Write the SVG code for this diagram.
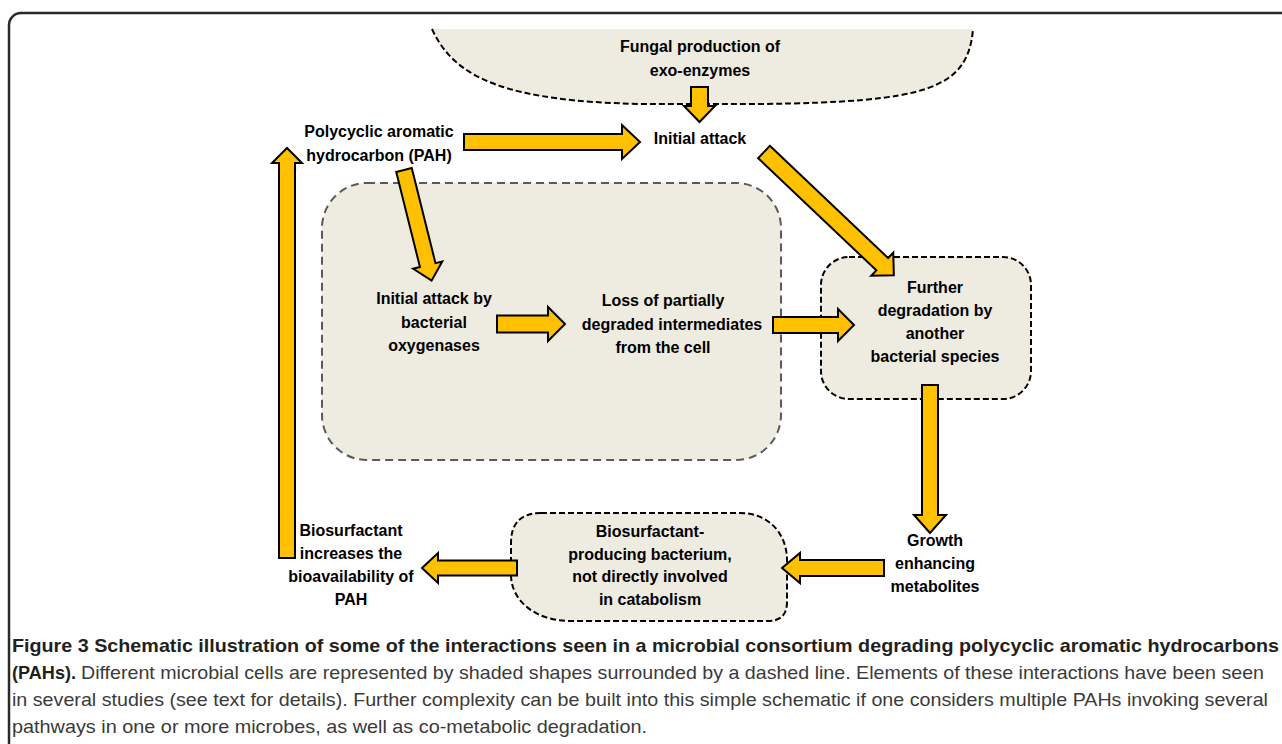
<svg xmlns="http://www.w3.org/2000/svg" width="1282" height="744" viewBox="0 0 1282 744">
<style>
.lbl{font-family:"Liberation Sans",Arial,sans-serif;font-weight:bold;font-size:16px;fill:#000;text-anchor:middle}
.cell{fill:#EEEBE0;stroke:#000;stroke-width:2;stroke-dasharray:6,3}
.cellg{fill:#EEEBE0;stroke:#5a5a5a;stroke-width:2;stroke-dasharray:8,5}
.arr{fill:#FFC000;stroke:#000;stroke-width:2;stroke-linejoin:miter}
.cap{font-family:"Liberation Sans",Arial,sans-serif;font-size:18.5px}
.capb{font-weight:bold;fill:#231f20}
.capn{fill:#3a3a3a}
</style>
<rect x="9" y="13" width="1300" height="760" rx="12" fill="#fff" stroke="#2a2a2a" stroke-width="2.5"/>
<g id="fungus">
<path d="M432,29 C455,80 510,101 640,104 L760,104 C925,102 968,90 973,29 Z" fill="#EEEBE0"/>
<path d="M432,29 C455,80 510,101 640,104 L760,104 C925,102 968,90 973,29" fill="none" stroke="#000" stroke-width="2" stroke-dasharray="6,3"/>
<text class="lbl" x="700" y="52">Fungal production of</text>
<text class="lbl" x="700" y="76">exo-enzymes</text>
</g>
<g id="bacterium1">
<rect class="cellg" x="322" y="183" width="459" height="277" rx="45"/>
<text class="lbl" x="434" y="304">Initial attack by</text>
<text class="lbl" x="434" y="328">bacterial</text>
<text class="lbl" x="434" y="351">oxygenases</text>
<text class="lbl" x="663" y="306">Loss of partially</text>
<text class="lbl" x="672" y="330">degraded intermediates</text>
<text class="lbl" x="663" y="353">from the cell</text>
</g>
<g id="bacterium2">
<rect class="cell" x="821" y="257" width="210" height="142" rx="28"/>
<text class="lbl" x="935" y="293">Further</text>
<text class="lbl" x="935" y="316">degradation by</text>
<text class="lbl" x="935" y="339">another</text>
<text class="lbl" x="935" y="362">bacterial species</text>
</g>
<g id="bacterium3">
<path class="cell" d="M541,513 L740,513 C770,513 787,535 787,560 L787,602 Q787,621 768,621 L570,621 C535,621 511,600 511,575 L511,543 Q511,513 541,513 Z"/>
<text class="lbl" x="650" y="537">Biosurfactant-</text>
<text class="lbl" x="650" y="560">producing bacterium,</text>
<text class="lbl" x="650" y="582">not directly involved</text>
<text class="lbl" x="650" y="605">in catabolism</text>
</g>
<g id="pah">
<text class="lbl" x="379" y="137">Polycyclic aromatic</text>
<text class="lbl" x="379" y="161">hydrocarbon (PAH)</text>
</g>
<g id="initial-attack">
<text class="lbl" x="700" y="144">Initial attack</text>
</g>
<g id="growth">
<text class="lbl" x="935" y="546">Growth</text>
<text class="lbl" x="935" y="569">enhancing</text>
<text class="lbl" x="935" y="592">metabolites</text>
</g>
<g id="bioavailability">
<text class="lbl" x="351" y="536">Biosurfactant</text>
<text class="lbl" x="351" y="559">increases the</text>
<text class="lbl" x="351" y="582">bioavailability of</text>
<text class="lbl" x="351" y="605">PAH</text>
</g>
<g id="connectors">
<polygon class="arr" transform="translate(699.5,87) rotate(90)" points="0,-8.5 19,-8.5 19,-15.5 35,0 19,15.5 19,8.5 0,8.5"/>
<polygon class="arr" transform="translate(464,142)" points="0,-8 158,-8 158,-17 176,0 158,17 158,8 0,8"/>
<polygon class="arr" transform="translate(764,152) rotate(43.5)" points="0,-8.5 163,-8.5 163,-16 179,0 163,16 163,8.5 0,8.5"/>
<polygon class="arr" transform="translate(404,170) rotate(76)" points="0,-8 98,-8 98,-15 114,0 98,15 98,8 0,8"/>
<polygon class="arr" transform="translate(497,324)" points="0,-8.5 51,-8.5 51,-17 68,0 51,17 51,8.5 0,8.5"/>
<polygon class="arr" transform="translate(773,325)" points="0,-8 65,-8 65,-16 81,0 65,16 65,8 0,8"/>
<polygon class="arr" transform="translate(930,385) rotate(90)" points="0,-8 130,-8 130,-16 148,0 130,16 130,8 0,8"/>
<polygon class="arr" transform="translate(884,568) rotate(180)" points="0,-8 84,-8 84,-15 102,0 84,15 84,8 0,8"/>
<polygon class="arr" transform="translate(517,568) rotate(180)" points="0,-7.5 79,-7.5 79,-15 95,0 79,15 79,7.5 0,7.5"/>
<polygon class="arr" transform="translate(287,558) rotate(-90)" points="0,-8 395,-8 395,-15 410,0 395,15 395,8 0,8"/>
</g>
<g id="caption">
<text class="cap capb" x="12" y="652" textLength="1267" lengthAdjust="spacingAndGlyphs">Figure 3 Schematic illustration of some of the interactions seen in a microbial consortium degrading polycyclic aromatic hydrocarbons</text>
<text class="cap capb" x="12" y="679" textLength="64" lengthAdjust="spacingAndGlyphs">(PAHs).</text>
<text class="cap capn" x="81" y="679" textLength="1183" lengthAdjust="spacingAndGlyphs">Different microbial cells are represented by shaded shapes surrounded by a dashed line. Elements of these interactions have been seen</text>
<text class="cap capn" x="12" y="706" textLength="1256" lengthAdjust="spacingAndGlyphs">in several studies (see text for details). Further complexity can be built into this simple schematic if one considers multiple PAHs invoking several</text>
<text class="cap capn" x="12" y="733" textLength="635" lengthAdjust="spacingAndGlyphs">pathways in one or more microbes, as well as co-metabolic degradation.</text>
</g>
</svg>
